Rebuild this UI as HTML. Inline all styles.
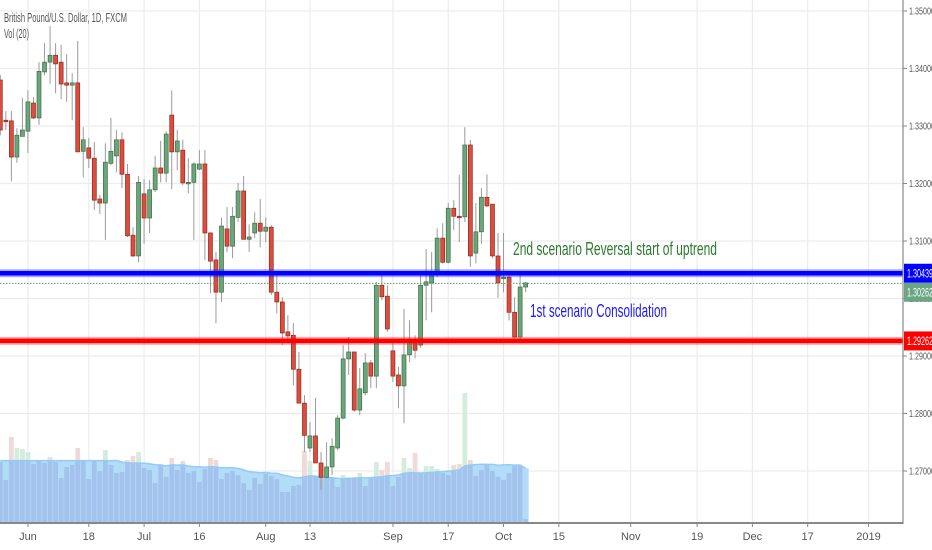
<!DOCTYPE html>
<html><head><meta charset="utf-8">
<style>
html,body{margin:0;padding:0;background:#fff;}
svg{display:block;font-family:"Liberation Sans Narrow","Liberation Sans",sans-serif;}
</style></head>
<body>
<svg id="chart" width="932" height="550" viewBox="0 0 932 550" xmlns="http://www.w3.org/2000/svg">
<defs><clipPath id="maclip"><path id="maclippath" d=""/></clipPath></defs>
<g id="grid"></g>
<g id="volume"></g>
<g id="candles"></g>
<g id="levels"></g>
<g id="axes"></g>
<text x="4" y="22" font-size="12.5" fill="#555" textLength="123" lengthAdjust="spacingAndGlyphs">British Pound/U.S. Dollar, 1D, FXCM</text>
<text x="4" y="38" font-size="12.5" fill="#555" textLength="25" lengthAdjust="spacingAndGlyphs">Vol (20)</text>
<text x="513" y="255" font-size="18" fill="#2b7a2e" textLength="204" lengthAdjust="spacingAndGlyphs">2nd scenario  Reversal start of uptrend</text>
<text x="530" y="317" font-size="18" fill="#1a1aff" textLength="137" lengthAdjust="spacingAndGlyphs">1st scenario Consolidation</text>
</svg>
<script>
const opens=[1.3380,1.3310,1.3309,1.3246,1.3282,1.3291,1.3340,1.3314,1.3394,1.3411,1.3423,1.3411,1.3375,1.3371,1.3375,1.3256,1.3262,1.3244,1.3173,1.3166,1.3235,1.3248,1.3276,1.3216,1.3110,1.3074,1.3182,1.3140,1.3189,1.3227,1.3218,1.3319,1.3255,1.3258,1.3201,1.3202,1.3225,1.3234,1.3114,1.3067,1.3011,1.3121,1.3091,1.3141,1.3187,1.3103,1.3114,1.3131,1.3117,1.3124,1.3011,1.2994,1.2942,1.2936,1.2877,1.2818,1.2740,1.2761,1.2714,1.2689,1.2707,1.2740,1.2792,1.2895,1.2907,1.2806,1.2836,1.2888,1.2865,1.3023,1.3004,1.2909,1.2867,1.2848,1.2902,1.2924,1.2919,1.3023,1.3027,1.3041,1.3105,1.3063,1.3157,1.3143,1.3142,1.3267,1.3079,1.3116,1.3176,1.3164,1.3074,1.3035,1.3037,1.2976,1.2933,1.3020];
const highs=[1.3389,1.3326,1.3326,1.3296,1.3349,1.3362,1.3350,1.3411,1.3444,1.3474,1.3444,1.3441,1.3425,1.3392,1.3448,1.3298,1.3279,1.3272,1.3180,1.3270,1.3314,1.3293,1.3289,1.3234,1.3124,1.3213,1.3208,1.3206,1.3248,1.3274,1.3291,1.3362,1.3293,1.3276,1.3244,1.3237,1.3258,1.3258,1.3115,1.3081,1.3140,1.3159,1.3159,1.3201,1.3213,1.3129,1.3150,1.3173,1.3141,1.3128,1.3041,1.3002,1.2971,1.2957,1.2907,1.2832,1.2785,1.2827,1.2733,1.2750,1.2757,1.2797,1.2919,1.2933,1.2907,1.2879,1.2905,1.2893,1.3029,1.3042,1.3023,1.2928,1.2881,1.2982,1.2962,1.2936,1.3041,1.3086,1.3081,1.3122,1.3131,1.3166,1.3171,1.3215,1.3298,1.3276,1.3166,1.3192,1.3216,1.3164,1.3114,1.3114,1.3046,1.3002,1.3041,1.3029];
const lows=[1.3284,1.3293,1.3204,1.3236,1.3282,1.3253,1.3312,1.3302,1.3388,1.3373,1.3357,1.3347,1.3342,1.3310,1.3255,1.3211,1.3227,1.3154,1.3147,1.3102,1.3232,1.3220,1.3192,1.3107,1.3072,1.3063,1.3095,1.3114,1.3185,1.3202,1.3202,1.3190,1.3223,1.3197,1.3183,1.3102,1.3223,1.3067,1.3009,1.2957,1.2994,1.3081,1.3070,1.3133,1.3103,1.3081,1.3105,1.3089,1.3098,1.3006,1.2974,1.2919,1.2922,1.2849,1.2818,1.2733,1.2733,1.2714,1.2667,1.2688,1.2693,1.2736,1.2790,1.2867,1.2803,1.2797,1.2832,1.2844,1.2844,1.2997,1.2942,1.2855,1.2809,1.2783,1.2889,1.2896,1.2914,1.2962,1.2976,1.3037,1.3061,1.3061,1.3119,1.3098,1.3133,1.3055,1.3061,1.3095,1.3159,1.3070,1.3001,1.3011,1.2962,1.2931,1.2922,1.3011];
const closes=[1.3293,1.3309,1.3246,1.3284,1.3293,1.3342,1.3314,1.3395,1.3411,1.3423,1.3408,1.3373,1.3371,1.3375,1.3255,1.3276,1.3244,1.3171,1.3166,1.3237,1.3256,1.3276,1.3216,1.3109,1.3074,1.3202,1.3140,1.3189,1.3227,1.3218,1.3286,1.3255,1.3274,1.3201,1.3202,1.3234,1.3234,1.3114,1.3065,1.3011,1.3126,1.3091,1.3143,1.3187,1.3103,1.3107,1.3131,1.3117,1.3124,1.3011,1.2994,1.2940,1.2935,1.2877,1.2818,1.2762,1.2761,1.2714,1.2689,1.2707,1.2743,1.2792,1.2895,1.2907,1.2806,1.2843,1.2888,1.2865,1.3023,1.3003,1.2947,1.2865,1.2848,1.2902,1.2924,1.2910,1.3023,1.3029,1.3041,1.3105,1.3063,1.3157,1.3143,1.3142,1.3267,1.3074,1.3116,1.3176,1.3161,1.3074,1.3027,1.3037,1.2976,1.2933,1.3020,1.3027];
const volumes=[61,43,86,75,74,71,59,63,60,66,61,45,56,58,75,63,44,63,52,73,58,50,51,63,67,71,55,53,40,59,46,65,53,62,50,52,41,54,65,63,44,50,52,48,40,33,45,39,49,47,44,31,31,37,38,72,62,47,49,46,45,36,48,46,46,50,37,46,61,53,61,37,46,65,55,70,51,57,57,54,50,48,58,59,130,63,47,53,58,52,46,43,50,57,57,4];
const priceTicks=[1.35,1.34,1.33,1.32,1.31,1.30,1.29,1.28,1.27];
const dateTickLabels=['Jun','18','Jul','16','Aug','13','Sep','17','Oct','15','Nov','19','Dec','17','2019'];
const dateTickIndex=[5,16,26,36,48,56,71,81,91,101,114,126,136,146,157];
const levelPrices=[1.30439,1.29262];
const lastPrice=1.30262;

const NS='http://www.w3.org/2000/svg';
const PLOT_R=903, PLOT_B=523;
function y(p){return 241+(1.31-p)*5750;}
function x(i){return 0.3+i*5.53;}
function vy(v){return PLOT_B-v*1.0;}
function el(tag,attrs,parent){const e=document.createElementNS(NS,tag);for(const k in attrs)e.setAttribute(k,attrs[k]);parent.appendChild(e);return e;}

const grid=document.getElementById('grid');
priceTicks.forEach(p=>{
  const l=el('line',{x1:0,x2:PLOT_R,y1:y(p),y2:y(p),stroke:'#ececec','stroke-width':1.2},grid);
  
  
});
dateTickIndex.forEach(i=>{
  const l=el('line',{x1:x(i),x2:x(i),y1:0,y2:PLOT_B,stroke:'#ececec','stroke-width':1.2},grid);
  
  
});

// volume MA (seeded with first-window average)
const first20=volumes.slice(0,20).reduce((a,b)=>a+b,0)/20;
let ma=[];
volumes.forEach((v,i)=>{
  if(i<19){ma.push(first20);return;}
  const s=volumes.slice(i-19,i+1);ma.push(s.reduce((a,b)=>a+b,0)/s.length);
});
let d='M'+(x(0)-3)+','+PLOT_B+' L'+(x(0)-3)+','+vy(ma[0]).toFixed(1);
ma.forEach((m,i)=>{d+=' L'+x(i).toFixed(1)+','+vy(m).toFixed(1);});
d+=' L'+(x(ma.length-1)+3)+','+vy(ma[ma.length-1]).toFixed(1)+' L'+(x(ma.length-1)+3)+','+PLOT_B+' Z';
document.getElementById('maclippath').setAttribute('d',d);

const vol=document.getElementById('volume');
volumes.forEach((v,i)=>{
  const up=closes[i]>=opens[i];
  const r=el('rect',{x:x(i)-2.4,y:vy(v),width:4.8,height:PLOT_B-vy(v),fill:up?'#d5ebdc':'#efd9d9'},vol);
  
  
});
const area=el('path',{d:d,fill:'#b3dcf9'},vol);


const inner=el('g',{'clip-path':'url(#maclip)'},vol);
volumes.forEach((v,i)=>{
  const r=el('rect',{x:x(i)-2.4,y:vy(v),width:4.8,height:PLOT_B-vy(v),fill:'#a4c3ec'},inner);
  
  
});
let dl='';
ma.forEach((m,i)=>{dl+=(i?' L':'M')+x(i).toFixed(1)+','+vy(m).toFixed(1);});
const mal=el('path',{d:dl,fill:'none',stroke:'#8fcdf5','stroke-width':1.5},vol);



// candles
const cg=document.getElementById('candles');
opens.forEach((o,i)=>{
  const c=closes[i], up=c>=o, cx=x(i);
  const w=el('line',{x1:cx,x2:cx,y1:y(highs[i]),y2:y(lows[i]),stroke:'#9a9a9a','stroke-width':1},cg);
  
  
  const top=y(Math.max(o,c)), h=Math.max(1.5,Math.abs(y(o)-y(c)));
  const b=el('rect',{x:cx-2,y:top,width:4,height:h,fill:up?'#6aa67a':'#dc4d3d',stroke:up?'#3d6f48':'#8c2b22','stroke-width':0.7},cg);
  
  
});

// levels
const lg=document.getElementById('levels');
const dot=el('line',{x1:0,x2:PLOT_R,y1:y(lastPrice),y2:y(lastPrice),stroke:'#5e9a6b','stroke-width':1,'stroke-dasharray':'1.5,1.5'},lg);


const lcol=['#0000ff','#ff0000'];
levelPrices.forEach((p,k)=>{
  el('line',{x1:0,x2:PLOT_R,y1:y(p),y2:y(p),stroke:lcol[k],'stroke-opacity':0.35,'stroke-width':8},lg);
  const l=el('line',{x1:0,x2:PLOT_R,y1:y(p),y2:y(p),stroke:lcol[k],'stroke-width':4.5},lg);
  
  
});

// axes
const ax=document.getElementById('axes');
const ra=el('line',{x1:PLOT_R,x2:PLOT_R,y1:0,y2:PLOT_B+1,stroke:'#888','stroke-width':1.2},ax);


const ba=el('line',{x1:0,x2:PLOT_R,y1:PLOT_B,y2:PLOT_B,stroke:'#888','stroke-width':2},ax);


priceTicks.forEach(p=>{
  el('line',{x1:PLOT_R,x2:PLOT_R+4,y1:y(p),y2:y(p),stroke:'#888'},ax);
  const t=el('text',{x:PLOT_R+6,y:y(p)+3.5,'font-size':10.5,fill:'#555',textLength:26,lengthAdjust:'spacingAndGlyphs'},ax);
  t.textContent=p.toFixed(5);
  
  
});
dateTickIndex.forEach((i,k)=>{
  el('line',{x1:x(i),x2:x(i),y1:PLOT_B,y2:PLOT_B+4,stroke:'#888'},ax);
  const t=el('text',{x:x(i),y:540,'font-size':11,fill:'#555','text-anchor':'middle'},ax);
  t.textContent=dateTickLabels[k];
  
  
});
const badges=[[levelPrices[0],'#0000ff'],[lastPrice,'#6ca584'],[levelPrices[1],'#ff0000']];
badges.forEach(([p,col])=>{
  const yy=Math.max(y(p),y(levelPrices[0])+19*(col==='#6ca584'?1:0));
  const r=el('rect',{x:PLOT_R+1,y:yy-9.5,width:29,height:19,fill:col},ax);
  
  
  const t=el('text',{x:PLOT_R+4,y:yy+4,'font-size':11.5,fill:'#fff',textLength:26,lengthAdjust:'spacingAndGlyphs'},ax);
  t.textContent=p.toFixed(5);
  
  
});
</script>
</body></html>
